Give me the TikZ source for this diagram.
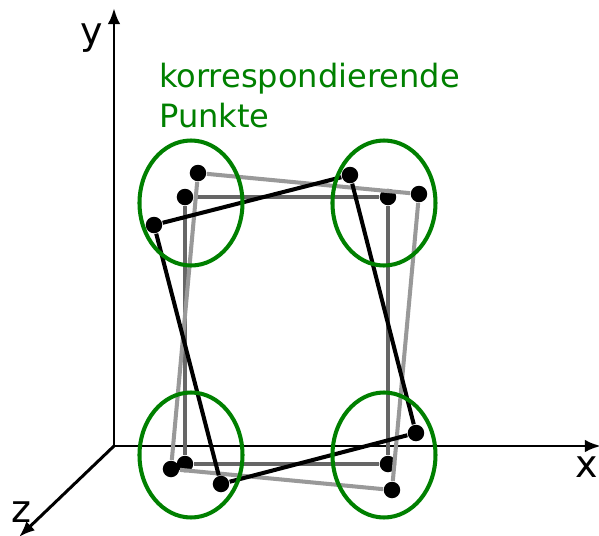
\documentclass[tikz,border=0pt]{standalone}
\usepackage{fontspec}
\setmainfont{DejaVu Sans}
\usetikzlibrary{arrows.meta,shapes.geometric}

\begin{document}
\begin{tikzpicture}[line join=round,
  axis/.style={-{Latex[length=1.6mm,width=1.25mm]},line width=0.85pt},
  edge/.style={line width=1.15pt},
  dot/.style={circle,fill=black,inner sep=0pt,minimum size=0.165cm},
  group/.style={ellipse,draw=corresp,line width=1.15pt,inner sep=0pt,minimum width=1.03cm,minimum height=1.25cm},
  axislabel/.style={inner sep=0pt,font=\fontsize{10.8}{13}\selectfont}]
\definecolor{corresp}{RGB}{0,128,0}
\definecolor{midgray}{RGB}{102,102,102}
\definecolor{lightgray}{RGB}{153,153,153}
\useasboundingbox (0,0) rectangle (5.99,-5.36);

% Coordinate axes.
\coordinate (O) at (1.14,-4.46);
\coordinate (Y) at (1.14,-0.08);
\coordinate (X) at (6.01,-4.46);
\coordinate (Z) at (0.19,-5.37);
\draw[axis] (O)--(Y);
\draw[axis] (O)--(X);
\draw[axis] (O)--(Z);
\node[axislabel] (ylabel) at (0.92,-0.38) {y};
\node[axislabel] (xlabel) at (5.87,-4.67) {x};
\node[axislabel] (zlabel) at (0.21,-5.12) {z};

% The three rectangles, one point in each corner.
\node[dot] (a1) at (1.85,-1.97) {};
\node[dot] (a2) at (3.88,-1.97) {};
\node[dot] (a3) at (3.88,-4.64) {};
\node[dot] (a4) at (1.85,-4.64) {};
\draw[edge,midgray] (a1)--(a2)--(a3)--(a4)--(a1);

\node[dot] (b1) at (1.98,-1.73) {};
\node[dot] (b2) at (4.19,-1.94) {};
\node[dot] (b3) at (3.92,-4.90) {};
\node[dot] (b4) at (1.71,-4.69) {};
\draw[edge,lightgray] (b1)--(b2)--(b3)--(b4)--(b1);

\node[dot] (c1) at (1.54,-2.25) {};
\node[dot] (c2) at (3.50,-1.75) {};
\node[dot] (c3) at (4.16,-4.33) {};
\node[dot] (c4) at (2.21,-4.84) {};
\draw[edge,black] (c1)--(c2)--(c3)--(c4)--(c1);

% Ellipses round the corresponding points.
\node[group] (g1) at (1.91,-2.03) {};
\node[group] (g2) at (3.84,-2.03) {};
\node[group] (g3) at (1.91,-4.55) {};
\node[group] (g4) at (3.84,-4.55) {};

\node[corresp,anchor=north west,inner sep=0pt,align=left,font=\fontsize{9.13}{11.4}\selectfont] (caption)
  at (1.585,-0.625) {korrespondierende\\Punkte};
\end{tikzpicture}
\end{document}
